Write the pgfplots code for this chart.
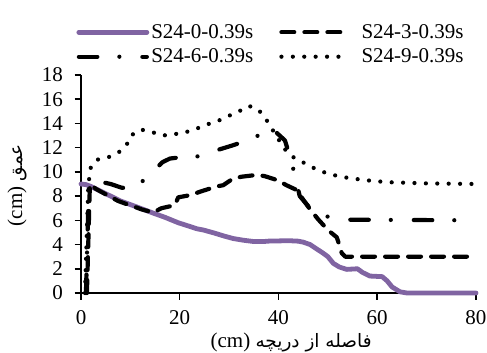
\documentclass[border=0pt]{standalone}
\usepackage{fontspec}
\setmainfont{Liberation Serif}
\newfontfamily\arabicfont[Script=Arabic,Scale=0.88]{DejaVu Sans}
\usepackage{pgfplots}
\pgfplotsset{compat=1.18}
\TeXXeTstate=1

\definecolor{seriespurple}{RGB}{128,100,162}
\newcommand{\chartfont}{\fontsize{21bp}{25bp}\selectfont}

\begin{document}
\begin{tikzpicture}
\useasboundingbox (0,0) rectangle (487bp,353bp);
\begin{axis}[
  at={(81bp,60bp)}, anchor=south west,
  scale only axis, width=395bp, height=218bp,
  xmin=0, xmax=80, ymin=0, ymax=18,
  xtick={0,20,...,80}, ytick={0,2,...,18},
  axis x line*=bottom, axis y line*=left,
  tick align=outside, major tick length=6.5bp,
  every tick/.style={black, line width=1.5bp},
  axis line style={black, line width=1.8bp},
  tick label style={font=\chartfont},
  xticklabel style={yshift=-8bp},
  yticklabel style={xshift=-8bp},
  /pgf/number format/assume math mode=true,
  clip=false,
  xlabel={(cm) {\arabicfont\beginR فاصله از دریچه\endR}},
  ylabel={(cm) {\arabicfont\beginR عمق\endR}},
  label style={font=\chartfont},
  xlabel style={at={(axis description cs:0.532,-0.228)}, anchor=center},
  ylabel style={at={(axis description cs:-0.162,0.495)}, anchor=center, rotate=0},
  legend columns=2,
  legend style={at={(axis description cs:-0.012,1.140)}, anchor=west,
    draw=none, fill=none, font=\chartfont, inner sep=0pt, row sep=5bp,
    nodes={inner sep=2bp},
    /tikz/every even column/.append style={column sep=24bp},
    /tikz/column 3/.append style={column sep=8bp}},
  legend cell align=left,
  legend image code/.code={\draw[#1] (0bp,0bp) -- (68bp,0bp);},
]
% S24-0 : solid purple
\addplot[seriespurple, line width=4.8bp, line cap=round, line join=round] coordinates {
(0,9.0)(1,8.95)(2,8.8)(3,8.6)(5,8.2)(8,7.6)(10,7.3)(12,7.0)(14.6,6.6)(17,6.25)
(19.7,5.8)(22,5.5)(23.5,5.3)(24.8,5.2)(27,4.95)(29,4.7)(30.8,4.5)(33,4.35)(35,4.25)
(37,4.25)(38.5,4.3)(40,4.3)(42,4.32)(44,4.28)(45,4.2)(46.4,4.0)(47.5,3.7)(49,3.3)
(50,3.0)(51.1,2.45)(52.3,2.15)(53.8,1.95)(56,2.0)(57,1.7)(58.5,1.4)(61,1.35)(62,1.0)
(63,0.5)(64.6,0.1)(66,0)(80,0)};
\addlegendentry{S24-0-0.39s}
% S24-3 : dashed
\addplot[black, line width=4.2bp, line cap=round, line join=round,
  dash pattern=on 12.8bp off 10.2bp] coordinates {
(1.2,0)(1.8,9.0)(3,8.6)(5,8.15)(7.5,7.6)(9.5,7.3)(11.3,7.05)(12.3,6.9)(14.6,6.65)
(16.3,7.0)(19,7.25)(19.7,7.9)(22.4,8.1)(24,8.35)(27.5,8.8)(28.8,8.9)(30.8,9.45)
(32.5,9.6)(35.6,9.75)(37.2,9.65)(39.9,9.3)(41.6,8.9)(43.7,8.5)(44.5,8.0)(46.4,6.9)
(48,6.1)(50,5.2)(51.8,4.6)(52.3,4.0)(52.8,3.3)(53.5,3.0)(80,3.0)};
\addlegendentry{S24-3-0.39s}
% S24-6 : dash-dot
\addplot[black, line width=4.2bp, line cap=round, line join=round,
  dash pattern=on 18.5bp off 22bp on 0bp off 23bp] coordinates {
(1.0,0)(1.6,9.0)(2.5,9.3)(3.8,9.2)(6,9.0)(8.2,8.7)(10,8.6)(12.1,9.1)(14,9.8)(15,10.2)
(16.5,10.8)(18,11.1)(20,11.2)(22.6,11.15)(24.5,11.4)(26.8,11.7)(28.8,11.95)(30.8,12.2)
(33,12.5)(34.7,12.8)(36.5,13.1)(38.3,13.6)(39.7,13.2)(41.3,12.6)(42.6,10.9)(44.3,8.0)
(46.4,7.0)(48,6.6)(50,6.3)(52,6.15)(54,6.05)(80,6.0)};
\addlegendentry{S24-6-0.39s}
% S24-9 : dotted
\addplot[black, line width=4.2bp, line cap=round, line join=round,
  dash pattern=on 0bp off 11.4bp] coordinates {
(0.8,0)(1.5,9.0)(2.0,10.4)(3.2,11.0)(5.5,11.2)(7.6,11.6)(9.2,12.2)(10.1,13.0)(12.1,13.5)
(14.3,13.3)(16.5,13.0)(18.7,13.1)(21,13.25)(23.3,13.55)(25.4,13.9)(27.7,14.2)(29.8,14.6)
(32,15.0)(34,15.45)(35.9,15.15)(37.4,14.4)(38.6,13.6)(39.7,12.9)(41,12.0)(42.6,11.3)
(44.7,10.85)(46.7,10.4)(49,10.0)(51,9.75)(53.4,9.55)(56,9.4)(58,9.3)(62,9.15)(70,9.05)
(80,9.0)};
\addlegendentry{S24-9-0.39s}
\end{axis}
\end{tikzpicture}
\end{document}
